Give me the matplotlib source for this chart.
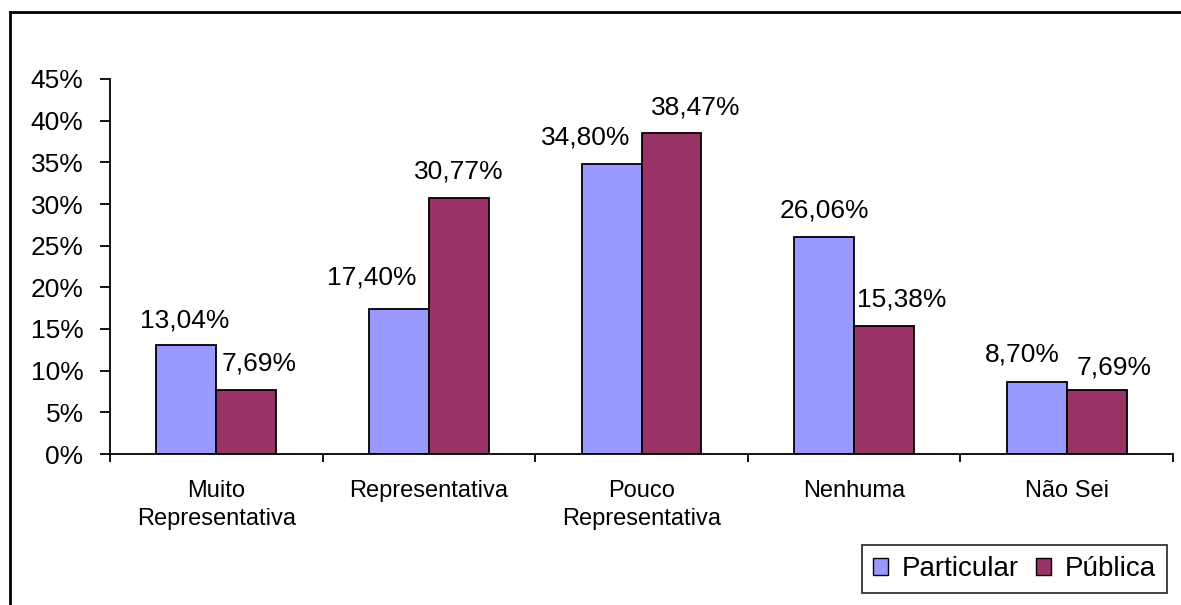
import numpy as np
import matplotlib
matplotlib.use("Agg")
import matplotlib.pyplot as plt
from matplotlib.lines import Line2D

plt.rcParams['font.family'] = ['Liberation Sans', 'DejaVu Sans']

categorias = ["Muito\nRepresentativa", "Representativa", "Pouco\nRepresentativa", "Nenhuma", "Não Sei"]
particular = [13.04, 17.40, 34.80, 26.06, 8.70]
publica = [7.69, 30.77, 38.47, 15.38, 7.69]
series = ["Particular", "Pública"]
cores = ["#9999FF", "#993366"]

# nudges of the data labels (pixels), as placed by hand in the original
dx_part = [-2, -27, -26, 0, -14]
dx_pub = [13, 0, 24, 18, 17]
dy_part = [18, 25, 19, 19, 20]
dy_pub = [19, 19, 19, 19, 15]

def fmt(v):
    return ("%.2f%%" % v).replace(".", ",")

px = 0.72  # points per pixel at dpi 100

fig = plt.figure(figsize=(11.81, 6.05), dpi=100)
ax = fig.add_axes([110/1181, 1-454/605, (1173-110)/1181, (454-79)/605])

x = np.arange(len(categorias))
w = 0.282
grupos = [(particular, series[0], cores[0], -w/2, dx_part, dy_part),
          (publica, series[1], cores[1], w/2, dx_pub, dy_pub)]
for vals, nome, cor, off, dxs, dys in grupos:
    ax.bar(x + off, vals, w, color=cor, edgecolor="black", linewidth=1.3, label=nome)
    for xi, v, dx, dy in zip(x + off, vals, dxs, dys):
        ax.annotate(fmt(v), (xi, v), xytext=(dx*px, dy*px), textcoords="offset points",
                    ha="center", va="baseline", fontsize=19)

ax.set_xlim(-0.5, len(categorias) - 0.5)
ax.set_ylim(0, 45)
ax.set_yticks(np.arange(0, 46, 5))
ax.set_yticklabels(["%d%%" % t for t in range(0, 46, 5)], fontsize=19)
ax.set_xticks(x)
ax.set_xticklabels(categorias, fontsize=17, linespacing=1.35)
ax.set_xticks(np.arange(-0.5, len(categorias), 1), minor=True)
ax.tick_params(axis="x", which="major", length=0, pad=19)
ax.tick_params(axis="x", which="minor", length=6, width=1.3)
ax.tick_params(axis="y", length=7, width=1.3, pad=12)
for s in ["top", "right"]:
    ax.spines[s].set_visible(False)
for s in ["left", "bottom"]:
    ax.spines[s].set_linewidth(1.3)

leg = fig.legend(loc="upper right", bbox_to_anchor=(1167/1181, 1-545/605), ncol=2,
                 fontsize=20, frameon=True, fancybox=False, edgecolor="black",
                 handlelength=0.55, handleheight=0.55, handletextpad=0.5, columnspacing=0.6,
                 borderpad=0.4, borderaxespad=0)
leg.get_frame().set_linewidth(1.3)
for h in leg.legend_handles:
    h.set_linewidth(1.0)

# outer chart frame (cropped on right and bottom)
fig.add_artist(Line2D([10/1181, 10/1181], [0, 1-12/605], color="black", lw=2))
fig.add_artist(Line2D([10/1181, 1], [1-12/605, 1-12/605], color="black", lw=2))

fig.savefig("out.png", dpi=100, facecolor="white")
